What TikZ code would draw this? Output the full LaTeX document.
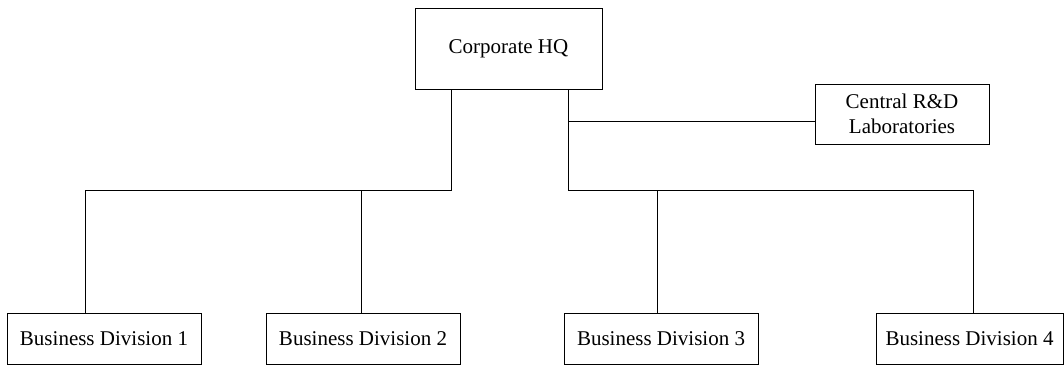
\documentclass[tikz,border=0pt]{standalone}
\usepackage{fontspec}
\setmainfont{Liberation Serif}
\begin{document}
\begin{tikzpicture}[x=1pt,y=-1pt,
  box/.style={draw, line width=1pt, inner sep=0pt, outer sep=0pt, anchor=north west, align=center,
    font=\fontsize{21}{25}\selectfont},
  link/.style={line width=1pt}]
\useasboundingbox (0,0) rectangle (1064,365);
\node[box, minimum width=187pt, minimum height=81pt] (hq) at (415,8) {Corporate HQ};
\node[box, minimum width=174pt, minimum height=60pt] (rd) at (815,84) {Central R\&D\\Laboratories};
\node[box, minimum width=194pt, minimum height=51pt] (d1) at (7,313) {Business Division 1};
\node[box, minimum width=194pt, minimum height=51pt] (d2) at (266,313) {Business Division 2};
\node[box, minimum width=194pt, minimum height=51pt] (d3) at (564,313) {Business Division 3};
\node[box, minimum width=187pt, minimum height=51pt] (d4) at (876,313) {Business Division 4};
\coordinate (jl) at (451,190);
\coordinate (jr) at (568,190);
\coordinate (jrd) at (568,121);
\draw[link] (hq.south -| jl) -- (jl) -| (d1.north -| 85,0);
\draw[link] (jl -| 361,0) -- (d2.north -| 361,0);
\draw[link] (hq.south -| jr) -- (jr) -| (d4.north -| 973,0);
\draw[link] (jr -| 657,0) -- (d3.north -| 657,0);
\draw[link] (jrd) -- (rd.west |- jrd);
\end{tikzpicture}
\end{document}
